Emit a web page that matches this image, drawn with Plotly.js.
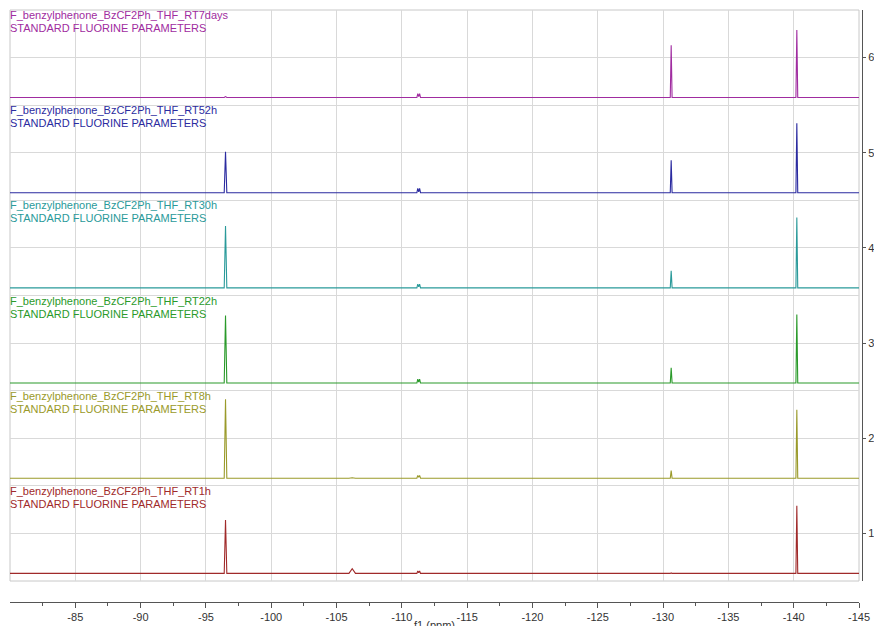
<!DOCTYPE html>
<html>
<head>
<meta charset="utf-8">
<script src="https://cdn.plot.ly/plotly-3.0.1.min.js"></script>
<style>html,body{margin:0;padding:0;background:#fff;}#chart{width:874px;height:626px;}</style>
</head>
<body>
<div id="chart"></div>
<script>
// chemical shift points (ppm) shared by all spectra
const ppm = [-80, -96.40, -96.50, -96.60, -105.95, -106.20, -106.45, -111.15, -111.22, -111.29, -111.36, -111.43,
             -130.55, -130.62, -130.69, -133.05, -133.15, -133.25, -140.17, -140.24, -140.31, -145];

// sample names (bottom to top)
const names = ["F_benzylphenone_BzCF2Ph_THF_RT1h", "F_benzylphenone_BzCF2Ph_THF_RT8h",
               "F_benzylphenone_BzCF2Ph_THF_RT22h", "F_benzylphenone_BzCF2Ph_THF_RT30h",
               "F_benzylphenone_BzCF2Ph_THF_RT52h", "F_benzylphenone_BzCF2Ph_THF_RT7days"];
const subtitle = "STANDARD FLUORINE PARAMETERS";
const xTitle = "f1 (ppm)";

// intensities above each baseline (stack units)
const int_RT1h    = [0, 0, 0.56, 0, 0, 0.05,  0, 0, 0.025, 0.008, 0.025, 0, 0, 0.005, 0, 0, 0.005, 0, 0, 0.71, 0, 0];
const int_RT8h    = [0, 0, 0.83, 0, 0, 0.005, 0, 0, 0.03,  0.01,  0.03,  0, 0, 0.08,  0, 0, 0.005, 0, 0, 0.72, 0, 0];
const int_RT22h   = [0, 0, 0.71, 0, 0, 0,     0, 0, 0.04,  0.01,  0.04,  0, 0, 0.16,  0, 0, 0.005, 0, 0, 0.72, 0, 0];
const int_RT30h   = [0, 0, 0.65, 0, 0, 0,     0, 0, 0.04,  0.01,  0.04,  0, 0, 0.18,  0, 0, 0.005, 0, 0, 0.74, 0, 0];
const int_RT52h   = [0, 0, 0.43, 0, 0, 0,     0, 0, 0.045, 0.01,  0.045, 0, 0, 0.34,  0, 0, 0.005, 0, 0, 0.73, 0, 0];
const int_RT7days = [0, 0, 0.01, 0, 0, 0,     0, 0, 0.04,  0.01,  0.04,  0, 0, 0.55,  0, 0, 0.005, 0, 0, 0.71, 0, 0];

// stacking baselines
const offsets = [0.58, 1.58, 2.58, 3.58, 4.58, 5.58];
const colors = ["#a02a2a", "#9a9a2a", "#2a9a2a", "#2a9a9a", "#2b2ba0", "#a02ca0"];

// axis ticks
const xTicks = [-85, -90, -95, -100, -105, -110, -115, -120, -125, -130, -135, -140, -145];
const xMinor = [-82.5, -87.5, -92.5, -97.5, -102.5, -107.5, -112.5, -117.5, -122.5, -127.5, -132.5, -137.5, -142.5];
const yTicks = [1, 2, 3, 4, 5, 6];
const yHalf = [1.5, 2.5, 3.5, 4.5, 5.5];

const spectra = [int_RT1h, int_RT8h, int_RT22h, int_RT30h, int_RT52h, int_RT7days];
const FONT = "Liberation Sans, Arial, sans-serif";

const traces = spectra.map((s, i) => ({
  x: ppm,
  y: s.map(v => v + offsets[i]),
  type: "scatter",
  mode: "lines",
  line: {color: colors[i], width: 1.1},
  hoverinfo: "skip",
  showlegend: false
}));

const annotations = [];
names.forEach((n, i) => {
  annotations.push({
    xref: "x domain", yref: "y", x: 0, y: i + 1.5,
    xanchor: "left", yanchor: "middle", xshift: -2, yshift: -5,
    showarrow: false, text: n,
    font: {family: FONT, size: 11, color: colors[i]}
  });
  annotations.push({
    xref: "x domain", yref: "y", x: 0, y: i + 1.5,
    xanchor: "left", yanchor: "middle", xshift: -2, yshift: -18,
    showarrow: false, text: subtitle,
    font: {family: FONT, size: 11, color: colors[i]}
  });
});
annotations.push({
  xref: "x domain", yref: "paper", x: 0.5, y: 0,
  xanchor: "center", yanchor: "top", yshift: -15,
  showarrow: false, text: xTitle,
  font: {family: FONT, size: 11, color: "#333333"}
});

const layout = {
  width: 874, height: 626,
  margin: {l: 10, r: 15, t: 10, b: 24},
  paper_bgcolor: "#ffffff",
  plot_bgcolor: "#ffffff",
  font: {family: FONT, size: 11, color: "#333333"},
  showlegend: false,
  xaxis: {
    range: [-80, -145],
    domain: [0, 1],
    anchor: "free", position: 0,
    tickmode: "array", tickvals: xTicks, ticktext: xTicks.map(v => String(v)),
    ticks: "outside", ticklen: 5, tickcolor: "#555555", tickwidth: 1,
    minor: {tickmode: "array", tickvals: xMinor, ticks: "outside", ticklen: 3, tickcolor: "#555555", showgrid: false},
    showline: true, linecolor: "#555555", linewidth: 1,
    showgrid: true, gridcolor: "#d9d9d9", gridwidth: 1,
    zeroline: false,
    automargin: false,
    tickfont: {family: FONT, size: 11, color: "#333333"}
  },
  yaxis: {
    range: [0.5, 6.5],
    domain: [21/592, 1],
    side: "right",
    anchor: "free", position: 1, shift: 3,
    tickmode: "array", tickvals: yTicks,
    ticks: "outside", ticklen: 3, tickcolor: "#555555",
    minor: {tickmode: "array", tickvals: yHalf, ticklen: 0, showgrid: true, gridcolor: "#d9d9d9", gridwidth: 1},
    showline: true, linecolor: "#555555", linewidth: 1,
    showgrid: true, gridcolor: "#d9d9d9", gridwidth: 1,
    zeroline: false,
    automargin: false,
    tickfont: {family: FONT, size: 11, color: "#333333"}
  },
  shapes: [{
    type: "rect", xref: "x domain", yref: "y domain",
    x0: 0, x1: 1, y0: 0, y1: 1,
    line: {color: "#c8c8c8", width: 1}, layer: "below"
  }],
  annotations: annotations
};

Plotly.newPlot("chart", traces, layout, {displayModeBar: false, staticPlot: true});
</script>
</body>
</html>
